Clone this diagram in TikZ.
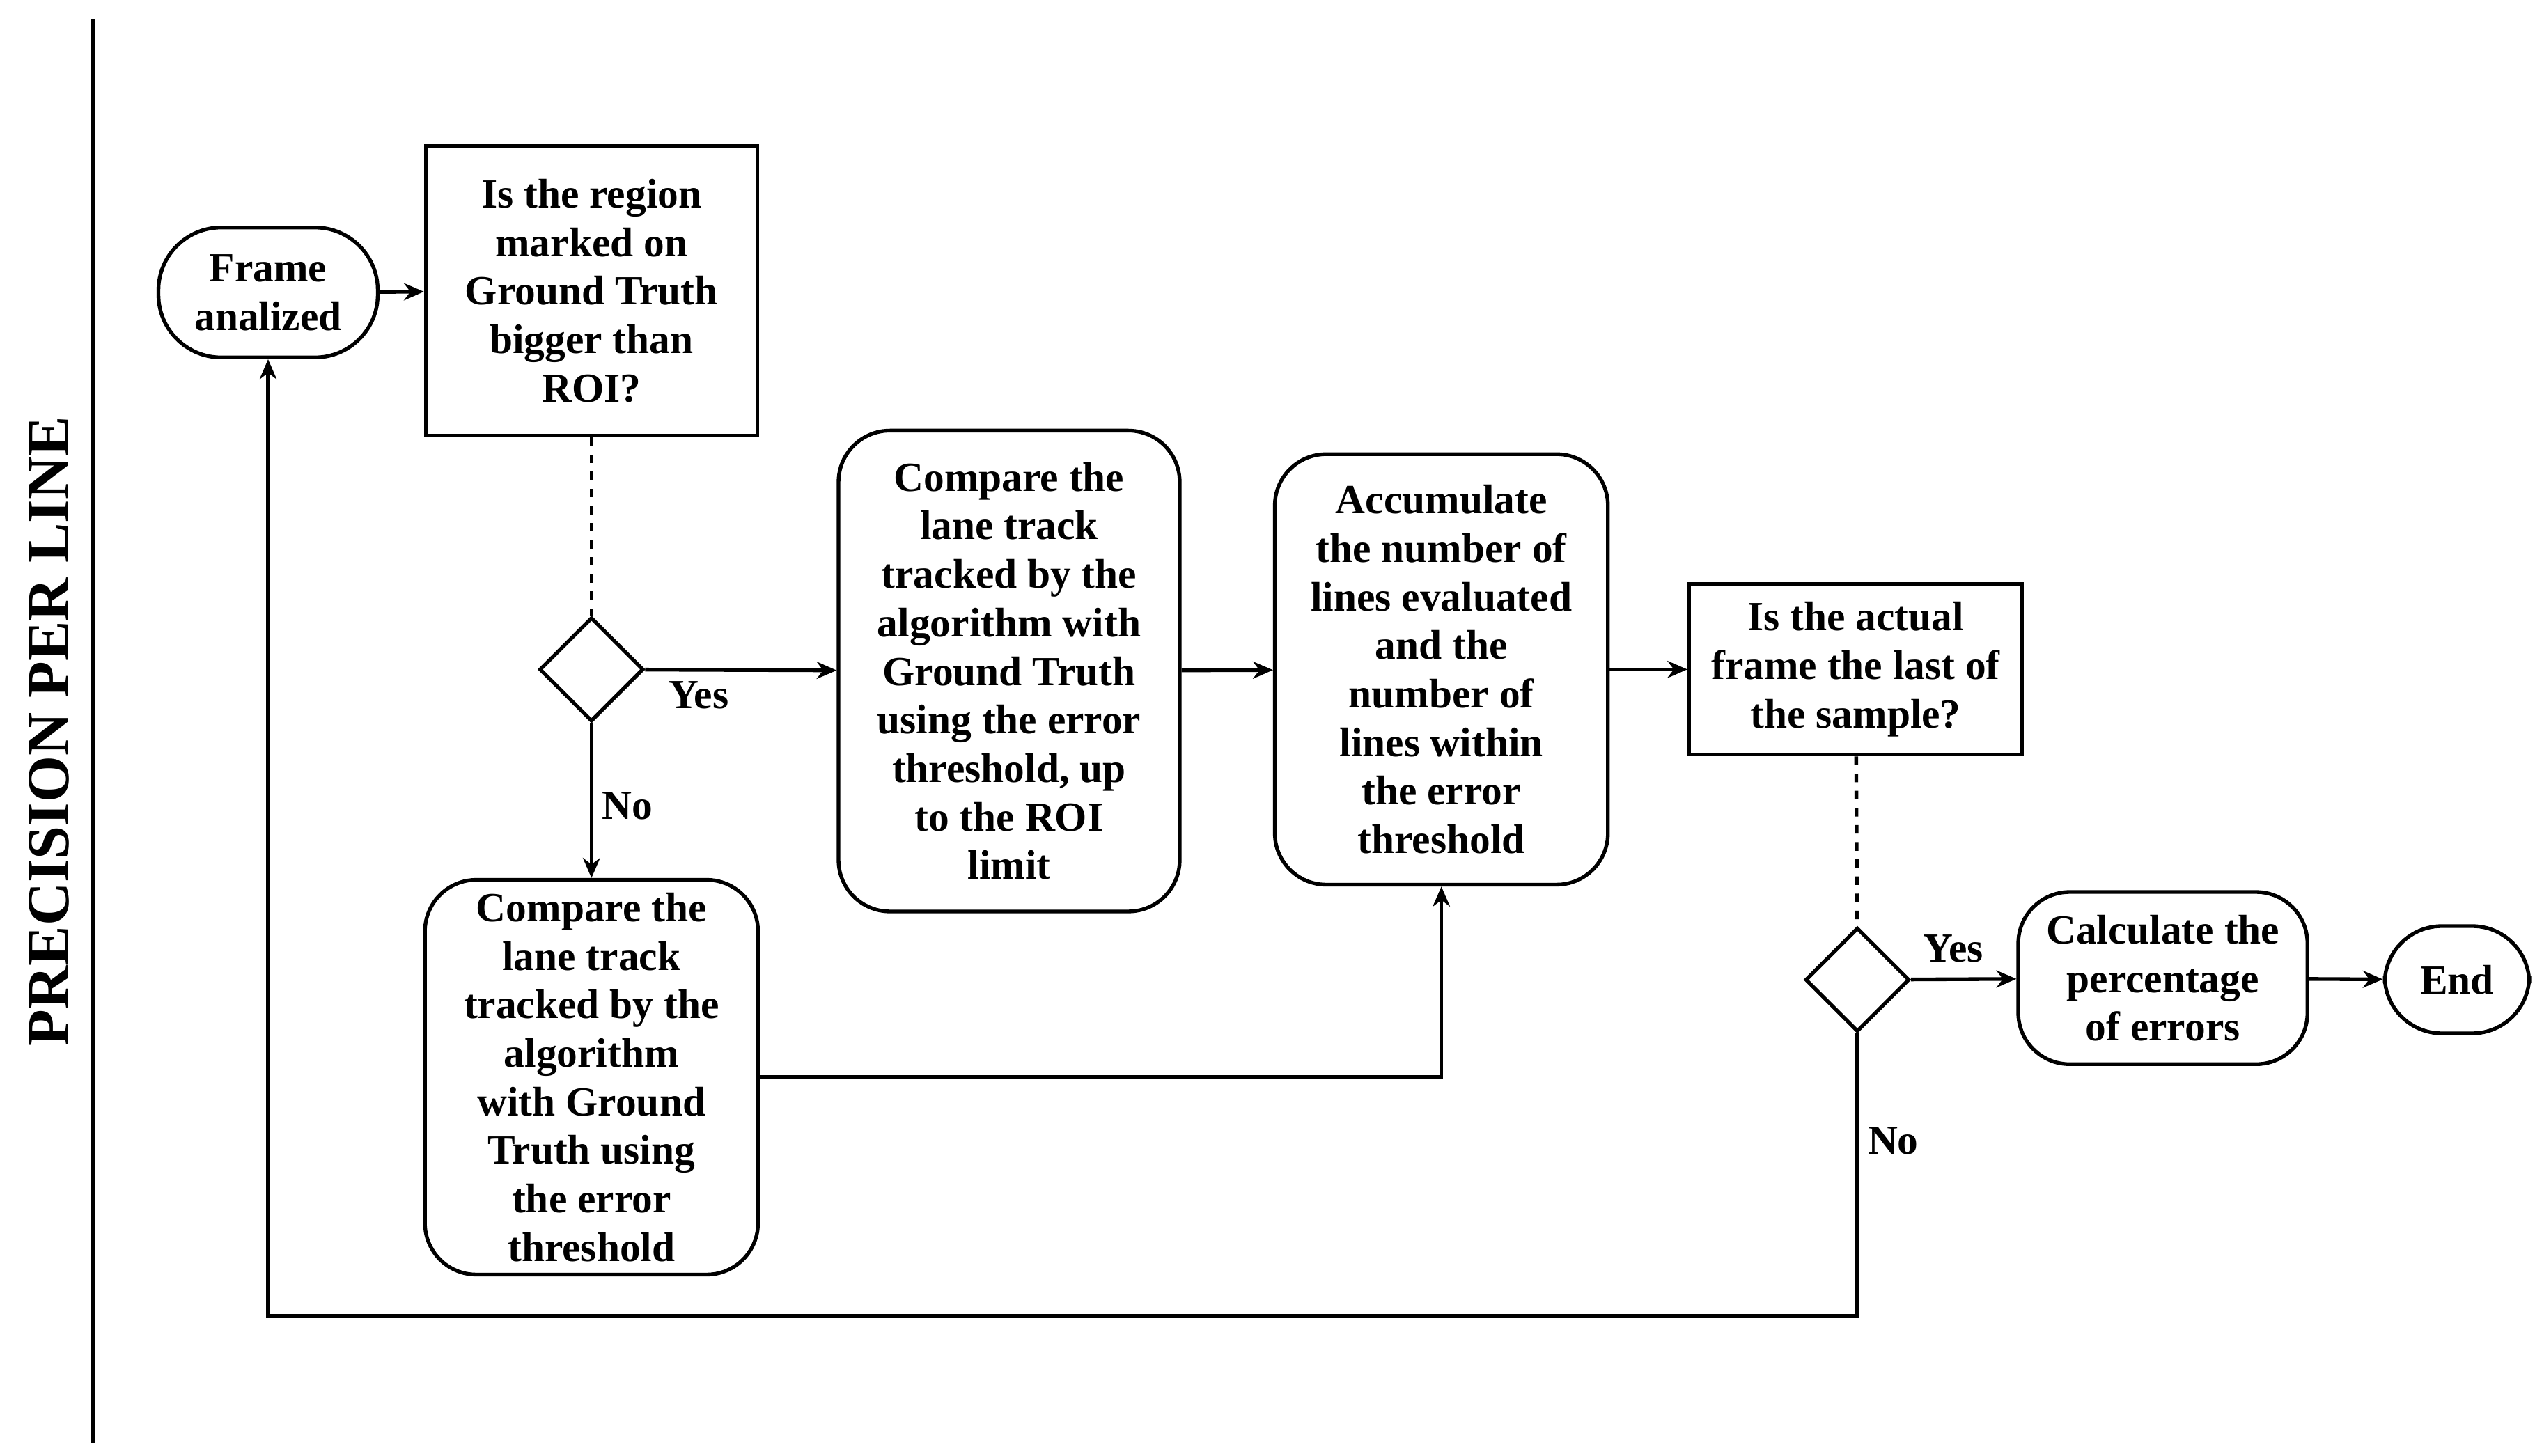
\documentclass[tikz,border=0pt]{standalone}
\usepackage{fontspec}
\setmainfont{Liberation Serif}
\usetikzlibrary{shapes.geometric,arrows.meta}
\begin{document}
\begin{tikzpicture}[x=0.02cm,y=-0.02cm,
  txt/.style={font=\bfseries\fontsize{14.5}{17}\selectfont,align=center},
  box/.style={draw,line width=1.3pt,txt,inner sep=0pt},
  rbox/.style={box,rounded corners=18pt},
  dia/.style={draw,line width=1.3pt,diamond,minimum width=1.28cm,minimum height=1.28cm,inner sep=0pt},
  ln/.style={line width=1.3pt},
  arr/.style={ln,-{Stealth[length=7pt,width=6pt]}},
  lab/.style={txt}]
\useasboundingbox (0,0) rectangle (1560,896);
\draw[ln] (57,12) -- (57,888);
\node[rotate=90,font=\bfseries\fontsize{21}{24}\selectfont] (title) at (30,450) {PRECISION PER LINE};
\node[box,rounded corners=22pt,minimum width=2.7cm,minimum height=1.6cm] (fa) at (165,180) {Frame\\analized};
\node[box,minimum width=4.08cm,minimum height=3.56cm] (q1) at (364,179) {Is the region\\marked on\\Ground Truth\\bigger than\\ROI?};
\node[dia] (d1) at (364,412) {};
\node[rbox,minimum width=4.2cm,minimum height=5.92cm] (c1) at (621,413) {Compare the\\lane track\\tracked by the\\algorithm with\\Ground Truth\\using the error\\threshold, up\\to the ROI\\limit};
\node[rbox,minimum width=4.1cm,minimum height=5.3cm] (acc) at (887,412) {Accumulate\\the number of\\lines evaluated\\and the\\number of\\lines within\\the error\\threshold};
\node[box,minimum width=4.1cm,minimum height=2.1cm] (q2) at (1142,412) {Is the actual\\frame the last of\\the sample?};
\node[dia] (d2) at (1143,603) {};
\node[rbox,minimum width=3.56cm,minimum height=2.12cm] (calc) at (1331,602) {Calculate the\\percentage\\of errors};
\node[box,rounded corners=20pt,minimum width=1.78cm,minimum height=1.32cm] (end) at (1512,603) {End};
\node[rbox,minimum width=4.1cm,minimum height=4.86cm] (c2) at (364,663) {Compare the\\lane track\\tracked by the\\algorithm\\with Ground\\Truth using\\the error\\threshold};
\coordinate (b1) at (1143,810);
\coordinate (b2) at (165,810);
\draw[arr] (fa) -- (q1);
\draw[ln,dashed] (q1) -- (d1);
\draw[arr] (d1) -- (c1);
\draw[arr] (d1) -- (c2);
\draw[arr] (c1) -- (acc);
\draw[arr] (acc) -- (q2);
\draw[ln,dashed] (q2) -- (d2);
\draw[arr] (d2) -- (calc);
\draw[arr] (calc) -- (end);
\draw[arr] (c2.east) -| (acc.south);
\draw[arr] (d2.south) -- (b1) -- (b2) -- (fa.south);
\node[lab] at (430,428) {Yes};
\node[lab] at (386,496) {No};
\node[lab] at (1202,584) {Yes};
\node[lab] at (1165,702) {No};
\end{tikzpicture}
\end{document}
